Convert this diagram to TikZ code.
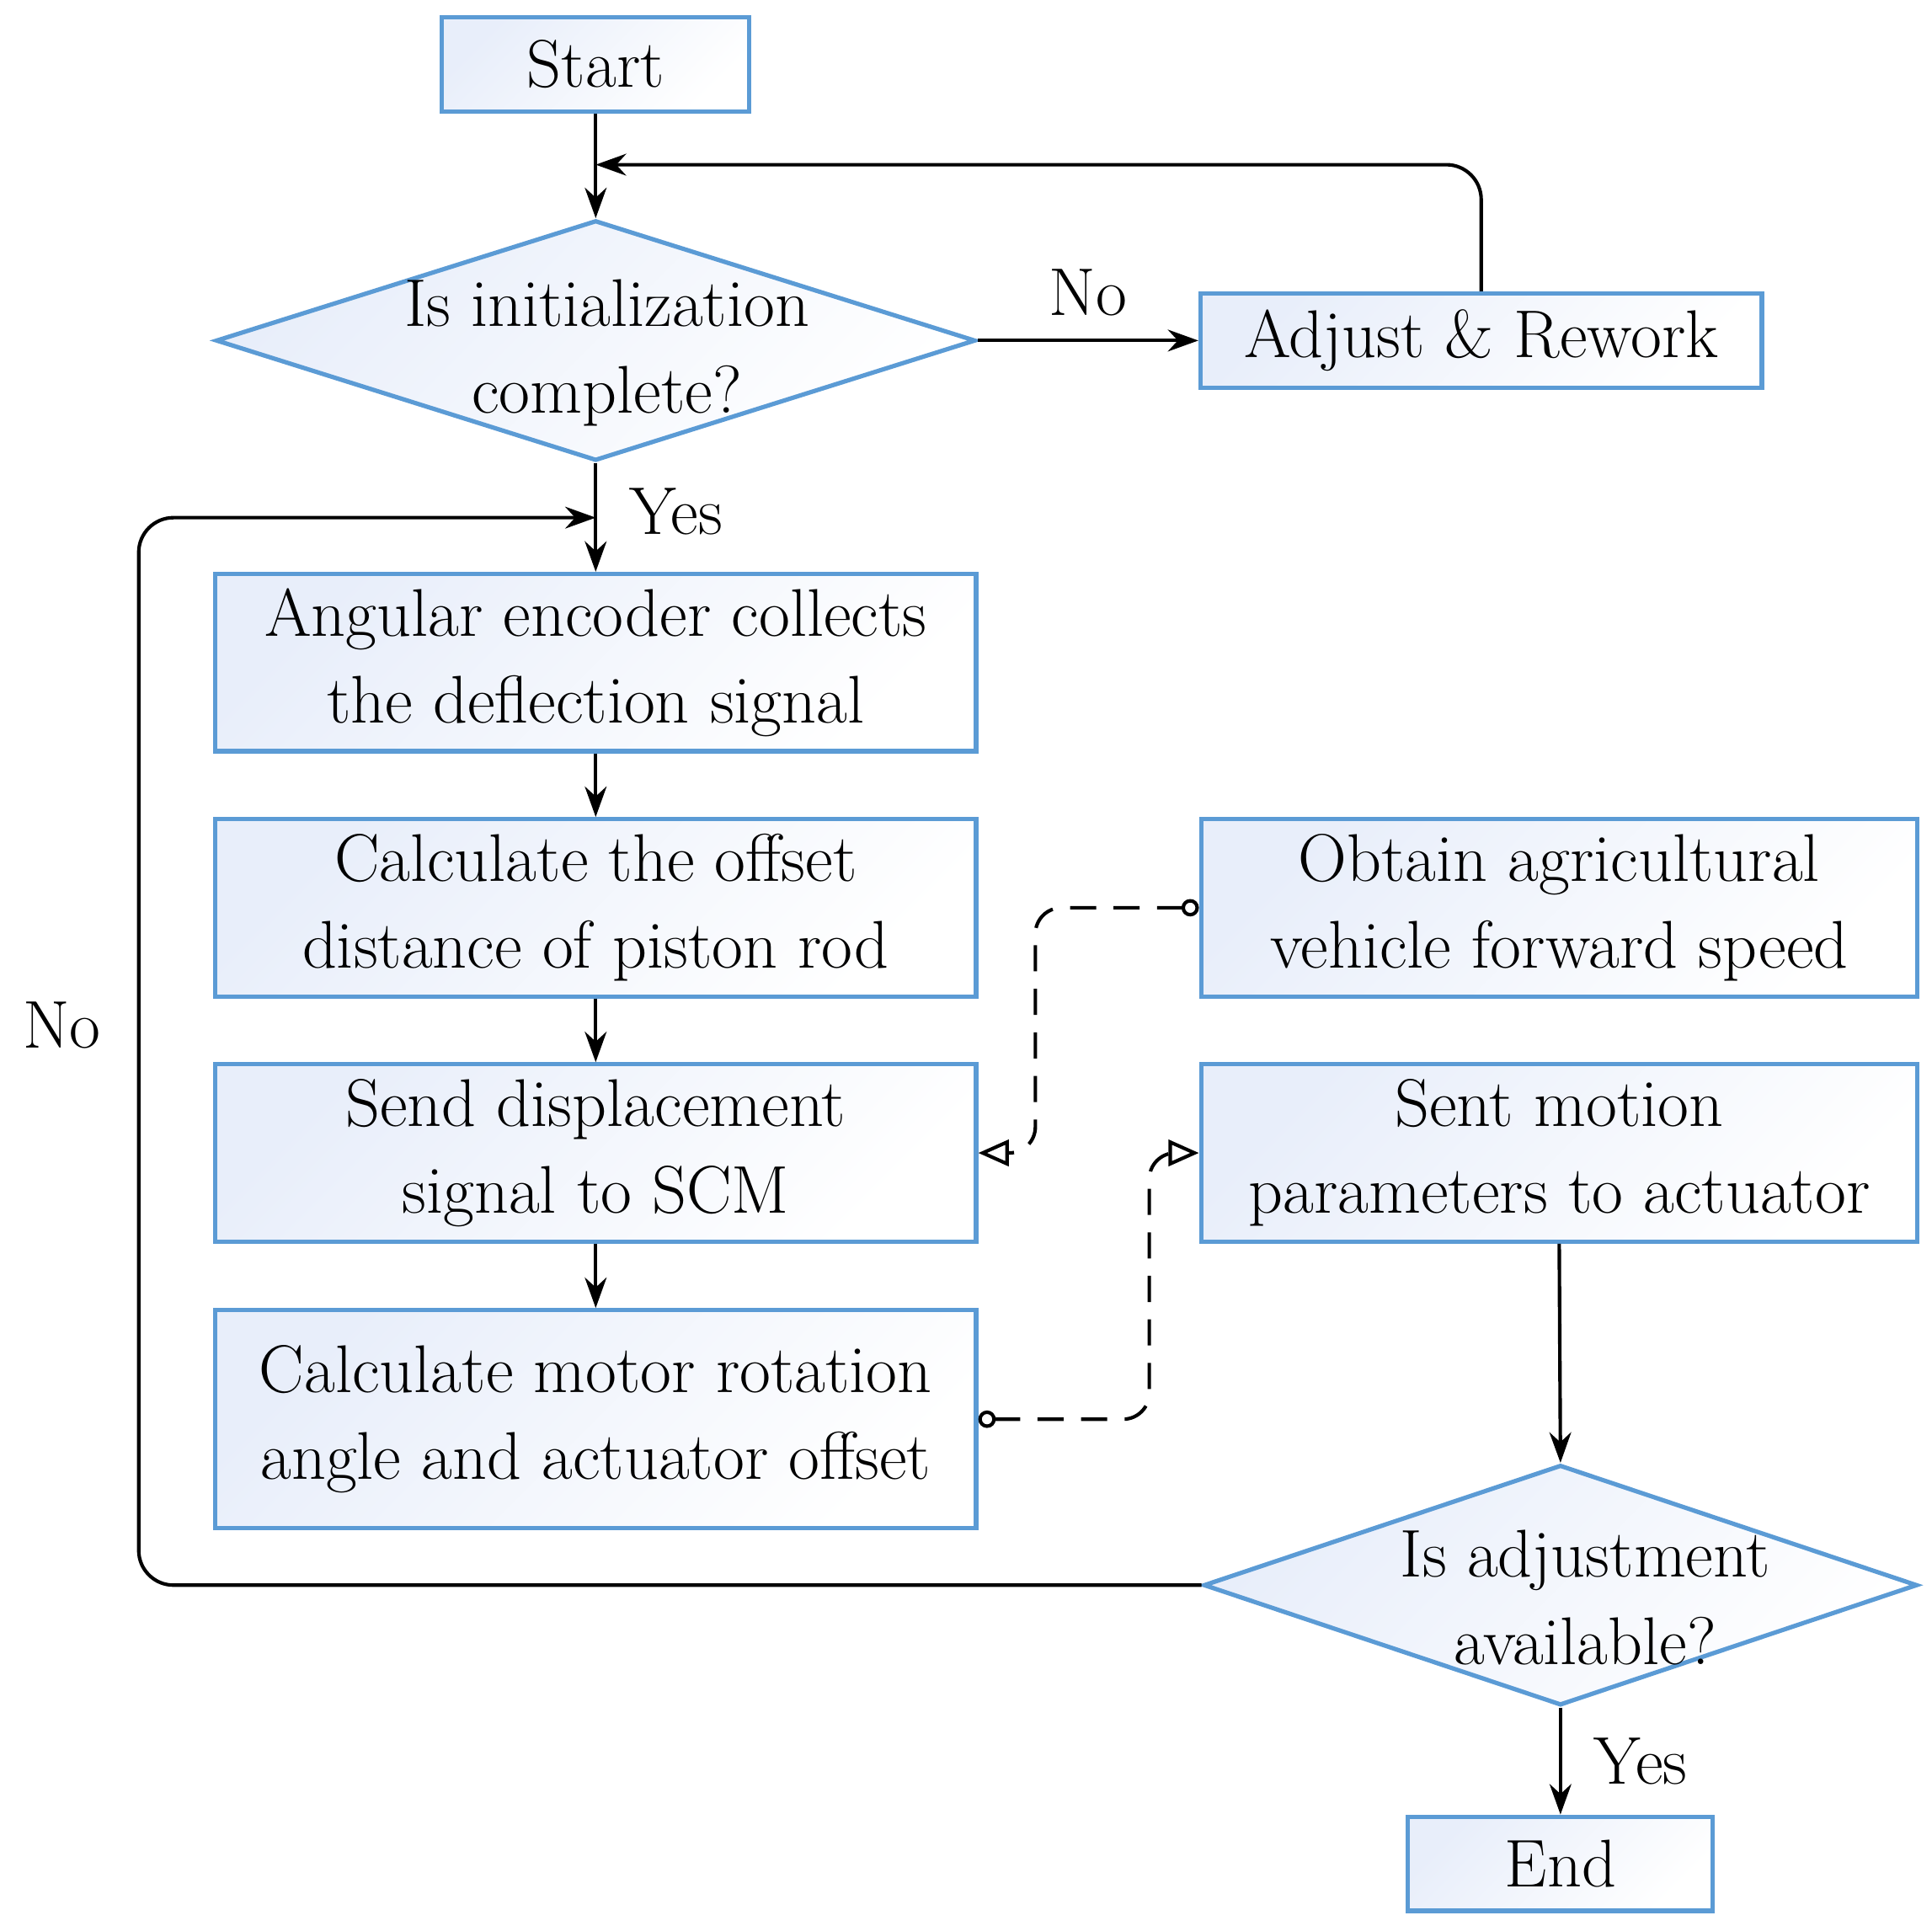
\documentclass[tikz,border=0pt]{standalone}
\usetikzlibrary{arrows.meta,shapes.geometric}
\begin{document}
\begin{tikzpicture}[x=0.01cm,y=-0.01cm,
  bc/.style={draw={rgb,255:red,91;green,155;blue,213},line width=1pt,top color={rgb,255:red,232;green,238;blue,250},bottom color=white,shading angle=45},
  box/.style={bc,rectangle,inner sep=0pt,align=center,font=\fontsize{15.5}{20}\selectfont},
  dia/.style={bc,diamond,inner sep=0pt},
  txt/.style={font=\fontsize{15.5}{20}\selectfont,align=center},
  arr/.style={-{Stealth[length=7pt,width=5pt]},line width=0.8pt},
  dsh/.style={line width=0.8pt,dash pattern=on 6pt off 4pt,{Circle[open,length=4pt]}-{Triangle[open,length=7pt,width=6pt]}},
  ln/.style={rounded corners=8pt}]
\useasboundingbox (0,0) rectangle (1560,1555);
\node[box,minimum width=2.48cm,minimum height=0.76cm] (start) at (481,52) {Start};
\node[dia,minimum width=6.13cm,minimum height=1.94cm] (d1) at (481,275) {};
\node[txt] at (490,285) {Is initialization\\complete?};
\node[box,minimum width=4.53cm,minimum height=0.76cm] (adj) at (1196,275) {Adjust \& Rework};
\node[box,minimum width=6.14cm,minimum height=1.43cm] (b1) at (481,535) {Angular encoder collects\\the deflection signal};
\node[box,minimum width=6.14cm,minimum height=1.43cm] (b2) at (481,733) {Calculate the offset\\distance of piston rod};
\node[box,minimum width=6.14cm,minimum height=1.43cm] (b3) at (481,931) {Send displacement\\signal to SCM};
\node[box,minimum width=6.14cm,minimum height=1.76cm] (b4) at (481,1146) {Calculate motor rotation\\angle and actuator offset};
\node[box,minimum width=5.78cm,minimum height=1.43cm] (ob) at (1259,733) {Obtain agricultural\\vehicle forward speed};
\node[box,minimum width=5.78cm,minimum height=1.43cm] (se) at (1259,931) {Sent motion\\parameters to actuator};
\node[dia,minimum width=5.76cm,minimum height=1.94cm] (d2) at (1260,1280) {};
\node[txt] at (1280,1290) {Is adjustment\\available?};
\node[box,minimum width=2.46cm,minimum height=0.76cm] (end) at (1260,1505) {End};
\coordinate (m1) at (481,133);
\coordinate (m2) at (481,418);
\draw[arr] (start) -- (d1.north);
\draw[arr] (d1.east) -- node[txt,above=2pt] {No} (adj.west);
\draw[arr,ln] (adj.north) |- (m1);
\draw[arr] (d1.south) -- node[txt,pos=0.45,right=4pt] {Yes} (b1.north);
\draw[arr,ln] (d2.west) -| (112,418) -- (m2);
\node[txt] at (50,828) {No};
\draw[arr] (b1) -- (b2);
\draw[arr] (b2) -- (b3);
\draw[arr] (b3) -- (b4);
\draw[arr] (se.south) -- (d2.north);
\draw[arr] (d2.south) -- node[txt,right=4pt] {Yes} (end.north);
\draw[dsh,rounded corners=6pt] (ob.west) -| (836,931) -- (b3.east);
\draw[dsh,rounded corners=6pt] (b4.east) -| (928,931) -- (se.west);
\end{tikzpicture}
\end{document}
